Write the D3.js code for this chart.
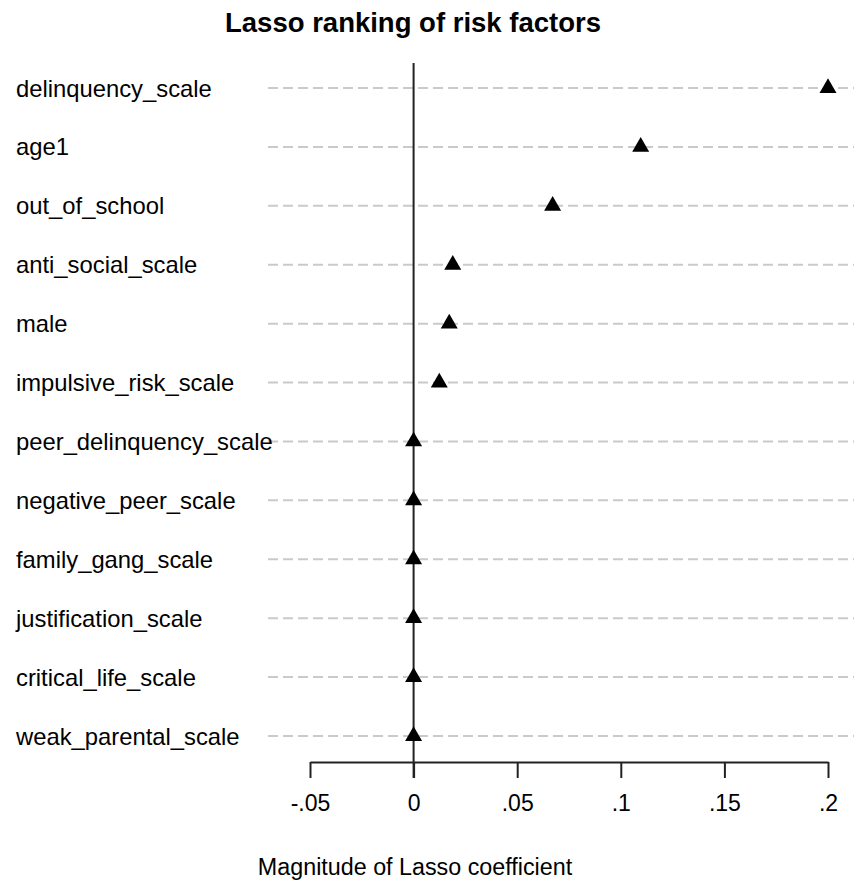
<!DOCTYPE html>
<html lang="en">
<head>
<meta charset="utf-8">
<script src="https://d3js.org/d3.v7.min.js"></script>
<style>
  body { margin: 0; background: #fff; }
  svg text { font-family: "Liberation Sans", Arial, sans-serif; fill: #000; }
</style>
</head>
<body>
<svg width="854" height="880"></svg>
<script>
// risk factors, top to bottom
const factors = ["delinquency_scale", "age1", "out_of_school", "anti_social_scale", "male",
  "impulsive_risk_scale", "peer_delinquency_scale", "negative_peer_scale", "family_gang_scale",
  "justification_scale", "critical_life_scale", "weak_parental_scale"];
// lasso coefficient for each factor
const coefs = [0.2, 0.1096, 0.0671, 0.0189, 0.0172, 0.0124, 0, 0, 0, 0, 0, 0];
const tickValues = [-0.05, 0, 0.05, 0.1, 0.15, 0.2];
const tickLabels = ["-.05", "0", ".05", ".1", ".15", ".2"];

const svg = d3.select("svg");

// scales
const x = d3.scaleLinear().domain([-0.05, 0.2]).range([310, 828]);
const y = d3.scalePoint().domain(factors).range([88, 736]);
const axisY = 762;

// title
svg.append("text")
  .attr("x", 413).attr("y", 32)
  .attr("text-anchor", "middle")
  .style("font-size", "27.5px").style("font-weight", "bold")
  .text("Lasso ranking of risk factors");

// dashed row lines
svg.append("g").selectAll("line").data(factors).join("line")
  .attr("x1", 268).attr("x2", 854)
  .attr("y1", d => y(d)).attr("y2", d => y(d))
  .attr("stroke", "#cacaca").attr("stroke-width", 2)
  .attr("stroke-dasharray", "10,5");

// row labels
svg.append("g").selectAll("text").data(factors).join("text")
  .attr("x", 16).attr("y", d => y(d))
  .attr("dy", "0.36em")
  .style("font-size", "23.8px")
  .text(d => d);

// zero line
svg.append("line")
  .attr("x1", x(0)).attr("x2", x(0))
  .attr("y1", 63).attr("y2", axisY + 16)
  .attr("stroke", "#222").attr("stroke-width", 2);

// x axis
const xAxis = svg.append("g")
  .attr("transform", "translate(0," + axisY + ")")
  .call(d3.axisBottom(x)
    .tickValues(tickValues)
    .tickFormat((d, i) => tickLabels[i])
    .tickSize(16).tickSizeOuter(0).tickPadding(17));
xAxis.select(".domain").attr("stroke", "#222").attr("stroke-width", 2);
xAxis.selectAll(".tick line").attr("stroke", "#222").attr("stroke-width", 2);
xAxis.selectAll(".tick text")
  .style("font-size", "23px")
  .attr("fill", "#000")
  .style("font-family", "'Liberation Sans', Arial, sans-serif");

// axis title
svg.append("text")
  .attr("x", 415).attr("y", 875)
  .attr("text-anchor", "middle")
  .style("font-size", "23.3px")
  .text("Magnitude of Lasso coefficient");

// markers
svg.append("g").selectAll("path").data(factors).join("path")
  .attr("transform", (d, i) => "translate(" + x(coefs[i]) + "," + y(d) + ")")
  .attr("d", d3.symbol().type(d3.symbolTriangle).size(125))
  .attr("fill", "#000");
</script>
</body>
</html>
